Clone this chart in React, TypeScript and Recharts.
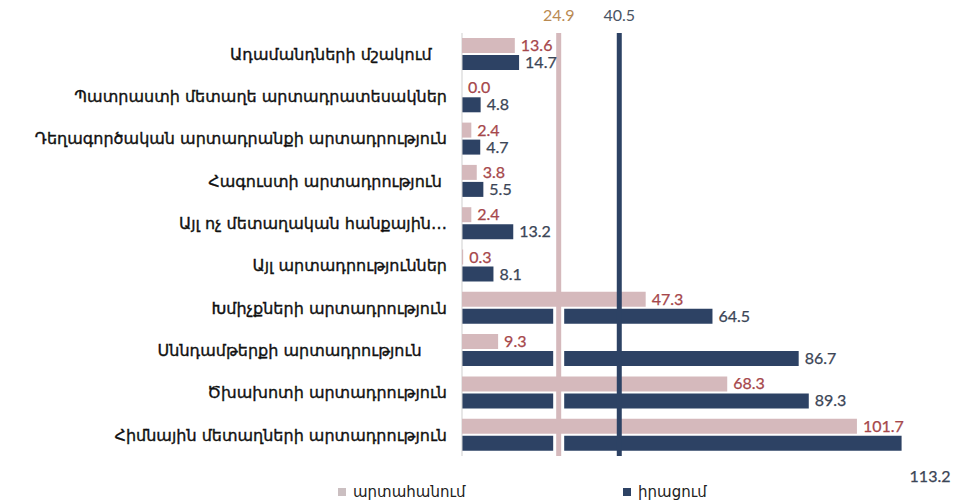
import React from 'react';
import { BarChart, Bar, XAxis, YAxis, ReferenceLine, LabelList, Legend } from 'recharts';

// Industry categories, top to bottom (trailing spaces kept as in the source labels)
const categories = [
  'Ադամանդների մշակում\u00a0\u00a0\u00a0',
  'Պատրաստի մետաղե արտադրատեսակներ',
  'Դեղագործական արտադրանքի արտադրություն',
  'Հագուստի արտադրություն\u00a0',
  'Այլ ոչ մետաղական հանքային…',
  'Այլ արտադրություններ',
  'Խմիչքների արտադրություն',
  'Սննդամթերքի արտադրություն\u00a0\u00a0\u00a0\u00a0\u00a0',
  'Ծխախոտի արտադրություն',
  'Հիմնային մետաղների արտադրություն',
];

const exportValues = [13.6, 0.0, 2.4, 3.8, 2.4, 0.3, 47.3, 9.3, 68.3, 101.7];
const salesValues = [14.7, 4.8, 4.7, 5.5, 13.2, 8.1, 64.5, 86.7, 89.3, 113.2];

// averages shown as vertical lines
const exportAverage = 24.9;
const salesAverage = 40.5;

const seriesNames = ['արտահանում', 'իրացում'];

const PINK = '#d5b9bc';
const NAVY = '#2d4264';
const PINK_TEXT = '#a6474b';
const NAVY_TEXT = '#3b4556';
const TEXT_FONT = "'DejaVu Sans', sans-serif";
const NUM_FONT = "Lato, 'DejaVu Sans', sans-serif";

const CHART_W = 960;
const CHART_H = 503;
const MARGIN = { top: 33, right: 32, bottom: 2, left: 0 };
const PLOT_RIGHT = CHART_W - MARGIN.right;

const data = categories.map((name, i) => ({
  name,
  exp: exportValues[i],
  sales: salesValues[i],
}));

// value label right of the bar; drops below the bar end if it would leave the plot
const makeLabel = (color: string) => (props: any) => {
  const { x, y, width, height, value } = props;
  const text = Number(value).toFixed(1);
  const endX = Number(x) + Number(width);
  const overflow = endX + 8 + text.length * 8 > PLOT_RIGHT;
  return (
    <text
      x={overflow ? endX + 8 : endX + 6}
      y={overflow ? Number(y) + Number(height) + 25 : Number(y) + Number(height) / 2 - 1}
      fill={color}
      stroke={color}
      strokeWidth={0.25}
      fontSize={16}
      fontFamily={NUM_FONT}
      dominantBaseline="central"
    >
      {text}
    </text>
  );
};

const renderLegend = (props: any) => {
  const { payload } = props;
  return (
    <div style={{ height: 45, paddingTop: 26, paddingLeft: 338, display: 'flex', boxSizing: 'border-box' }}>
      {(payload || []).map((entry: any) => (
        <div
          key={entry.value}
          style={{ width: 285, display: 'flex', alignItems: 'center', lineHeight: '18px', fontFamily: TEXT_FONT, fontSize: 15, color: '#222' }}
        >
          <span
            style={{
              width: 8,
              height: 8,
              marginRight: 7,
              backgroundColor: entry.value === seriesNames[0] ? '#cbbfc1' : NAVY,
              display: 'inline-block',
            }}
          />
          {entry.value}
        </div>
      ))}
    </div>
  );
};

export default function App() {
  return (
    <div style={{ position: 'fixed', left: 0, top: 0, background: '#fff' }}>
      <BarChart
        width={CHART_W}
        height={CHART_H}
        data={data}
        layout="vertical"
        margin={MARGIN}
        barSize={15}
        barGap={2}
      >
        <XAxis type="number" domain={[0, 120]} hide />
        <YAxis
          type="category"
          dataKey="name"
          width={462}
          axisLine={{ stroke: '#cfcfcf', strokeWidth: 1 }}
          tickLine={false}
          tickMargin={9}
          interval={0}
          tick={{ fill: '#111', stroke: '#111', strokeWidth: 0.35, fontSize: 16, fontFamily: TEXT_FONT }}
        />
        <Legend
          verticalAlign="bottom"
          align="left"
          content={renderLegend}
          wrapperStyle={{ left: 0, width: CHART_W }}
        />
        <Bar dataKey="exp" name={seriesNames[0]} fill={PINK} minPointSize={0.01} isAnimationActive={false} {...({ zIndex: 500 } as any)}>
          <LabelList dataKey="exp" content={makeLabel(PINK_TEXT)} />
        </Bar>
        <Bar dataKey="sales" name={seriesNames[1]} fill={NAVY} isAnimationActive={false} {...({ zIndex: 300 } as any)}>
          <LabelList dataKey="sales" content={makeLabel(NAVY_TEXT)} />
        </Bar>
        <ReferenceLine x={exportAverage} stroke="#fff" strokeWidth={11} {...({ zIndex: 450 } as any)} />
        <ReferenceLine
          x={exportAverage}
          stroke={PINK}
          strokeWidth={5}
          label={{ value: String(exportAverage), position: 'top', offset: 12, fill: '#b98a52', fontSize: 16, fontFamily: NUM_FONT }}
          {...({ zIndex: 600 } as any)}
        />
        <ReferenceLine
          x={salesAverage}
          stroke={NAVY}
          strokeWidth={5}
          label={{ value: String(salesAverage), position: 'top', offset: 12, fill: '#4a5464', fontSize: 16, fontFamily: NUM_FONT }}
          {...({ zIndex: 650 } as any)}
        />
      </BarChart>
    </div>
  );
}
